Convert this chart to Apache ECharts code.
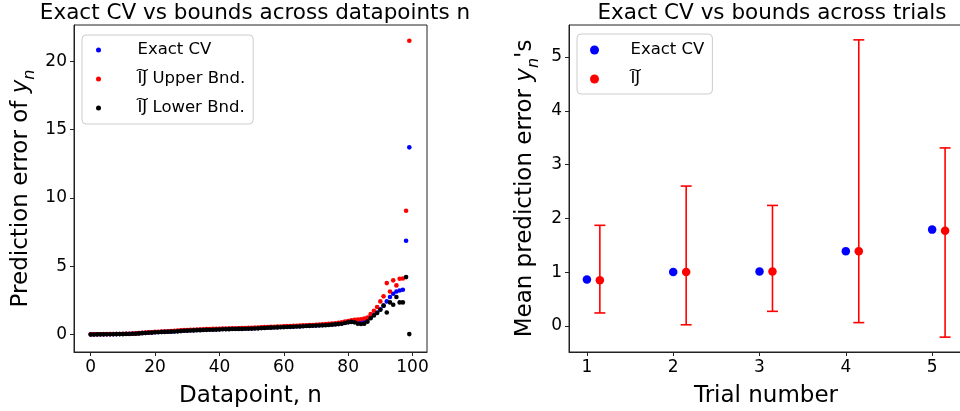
<!DOCTYPE html>
<html><head><meta charset="utf-8">
<script src="https://cdn.jsdelivr.net/npm/echarts@6/dist/echarts.min.js"></script>
<style>html,body{margin:0;padding:0;background:#fff}#c{width:960px;height:411px}</style>
</head><body><div id="c"></div>
<script>
// ---------- Left panel data (datapoints n = 0..99) ----------
const exactCV = [
  0.02,0.02,0.02,0.03,0.03,0.03,0.04,0.04,0.04,0.05,
  0.05,0.06,0.06,0.07,0.08,0.10,0.12,0.13,0.15,0.16,
  0.18,0.19,0.20,0.21,0.22,0.23,0.24,0.26,0.28,0.30,
  0.31,0.32,0.33,0.34,0.35,0.36,0.37,0.38,0.38,0.39,
  0.40,0.41,0.41,0.42,0.43,0.43,0.44,0.44,0.45,0.46,
  0.46,0.47,0.48,0.50,0.51,0.52,0.53,0.54,0.55,0.56,
  0.57,0.58,0.59,0.60,0.61,0.62,0.63,0.65,0.66,0.67,
  0.68,0.69,0.70,0.72,0.74,0.76,0.78,0.80,0.84,0.88,
  0.92,0.95,0.97,0.98,1.00,1.05,1.12,1.30,1.45,1.62,
  1.85,2.12,2.43,2.75,2.99,3.16,3.23,3.28,6.87,13.7
];
const ijUpper = [
  0.02,0.03,0.03,0.03,0.04,0.04,0.04,0.05,0.05,0.05,
  0.06,0.06,0.07,0.08,0.09,0.11,0.13,0.15,0.17,0.18,
  0.20,0.21,0.22,0.23,0.25,0.26,0.28,0.30,0.31,0.33,
  0.34,0.35,0.36,0.37,0.38,0.39,0.40,0.41,0.42,0.42,
  0.43,0.44,0.45,0.45,0.46,0.47,0.47,0.48,0.49,0.50,
  0.50,0.51,0.52,0.54,0.55,0.56,0.57,0.58,0.59,0.60,
  0.61,0.62,0.63,0.64,0.65,0.66,0.68,0.69,0.70,0.71,
  0.72,0.73,0.75,0.77,0.79,0.81,0.83,0.86,0.90,0.95,
  1.00,1.05,1.08,1.10,1.13,1.18,1.25,1.50,1.75,2.02,
  2.43,2.80,3.77,3.16,3.97,3.60,4.09,4.11,9.06,21.5
];
const ijLower = [
  0.01,0.01,0.02,0.02,0.02,0.03,0.03,0.03,0.04,0.04,
  0.04,0.05,0.05,0.06,0.07,0.09,0.11,0.12,0.14,0.15,
  0.17,0.18,0.19,0.20,0.21,0.22,0.23,0.24,0.26,0.28,
  0.29,0.30,0.31,0.32,0.33,0.34,0.35,0.36,0.36,0.37,
  0.38,0.39,0.39,0.40,0.41,0.41,0.42,0.42,0.43,0.43,
  0.44,0.45,0.46,0.48,0.49,0.50,0.51,0.52,0.53,0.54,
  0.55,0.56,0.57,0.58,0.59,0.60,0.61,0.63,0.64,0.65,
  0.66,0.67,0.68,0.69,0.71,0.73,0.75,0.77,0.80,0.85,
  0.90,0.93,0.90,0.80,0.78,0.80,0.95,1.20,1.40,1.58,
  1.82,2.12,1.62,2.36,2.19,2.75,2.36,2.36,4.21,0.04
];
const leftXTicks = [0, 20, 40, 60, 80, 100];
const leftYTicks = [0, 5, 10, 15, 20];

// ---------- Right panel data (trials) ----------
const trials   = [1, 2, 3, 4, 5];
const exactMean = [0.86, 1.00, 1.01, 1.39, 1.79];
const ijMean    = [0.85, 1.00, 1.01, 1.39, 1.77];
const ijLow     = [0.24, 0.02, 0.27, 0.06, -0.21];
const ijHigh    = [1.87, 2.60, 2.24, 5.32, 3.31];
const rightXTicks = [1, 2, 3, 4, 5];
const rightYTicks = [0, 1, 2, 3, 4, 5];

// ---------- styling ----------
const F = 'DejaVu Sans';
const IJ = 'I\u0360J';
const ijShift = 0.15; // horizontal dodge of the IJ markers
const BLUE = '#0000ff', RED = '#ff0000', BLACK = '#000000';

function axis(gridIndex, min, max, ticks, extra) {
  return Object.assign({
    type: 'value', gridIndex, min, max, scale: true,
    axisLine: { show: true, onZero: false, lineStyle: { color: '#222', width: 1 } },
    axisTick: { show: true, inside: false, length: 4, customValues: ticks, lineStyle: { color: '#222', width: 1 } },
    axisLabel: { customValues: ticks, fontSize: 17, color: '#000', fontFamily: F, margin: 7 },
    splitLine: { show: false },
    nameTextStyle: { fontFamily: F, fontSize: 23, color: '#000' }
  }, extra);
}
const richName = {
  t: { fontFamily: F, fontSize: 23, color: '#000', lineHeight: 30, verticalAlign: 'top' },
  i: { fontFamily: F, fontSize: 23, color: '#000', fontStyle: 'italic', lineHeight: 30, verticalAlign: 'top' },
  s: { fontFamily: F, fontSize: 16, color: '#000', fontStyle: 'italic', lineHeight: 30, verticalAlign: 'top', padding: [12, 0, 0, 0] }
};

const idx = exactCV.map((_, i) => i);
const pts = arr => arr.map((v, i) => [idx[i], v]);

const chart = echarts.init(document.getElementById('c'), null, { renderer: 'canvas' });
chart.setOption({
  animation: false,
  backgroundColor: '#fff',
  textStyle: { fontFamily: F },
  title: [
    { text: 'Exact CV vs bounds across datapoints n', left: 250, top: -3, textAlign: 'center',
      textStyle: { fontFamily: F, fontSize: 21.5, fontWeight: 'normal', color: '#000' } },
    { text: 'Exact CV vs bounds across trials', left: 767, top: -3, textAlign: 'center',
      textStyle: { fontFamily: F, fontSize: 21.5, fontWeight: 'normal', color: '#000' } }
  ],
  grid: [
    { left: 74, top: 25, width: 353, height: 327, show: true, borderColor: '#222', borderWidth: 1,
      backgroundColor: 'transparent', containLabel: false, outerBoundsMode: 'none' },
    { left: 569, top: 25, width: 394, height: 327, show: true, borderColor: '#222', borderWidth: 1,
      backgroundColor: 'transparent', containLabel: false, outerBoundsMode: 'none' }
  ],
  xAxis: [
    axis(0, -5.2, 104.5, leftXTicks, { name: 'Datapoint, n', nameLocation: 'middle', nameGap: 33 }),
    axis(1, 0.7925, 5.3575, rightXTicks, { name: 'Trial number', nameLocation: 'middle', nameGap: 33 })
  ],
  yAxis: [
    axis(0, -1.27, 22.65, leftYTicks, {
      name: '{t|Prediction error of }{i|y}{s|n}', nameLocation: 'middle', nameGap: 34, nameRotate: 90,
      nameTextStyle: { rich: richName }
    }),
    axis(1, -0.4865, 5.5965, rightYTicks, {
      name: "{t|Mean prediction error }{i|y}{s|n}{t|'s}", nameLocation: 'middle', nameGap: 25, nameRotate: 90,
      nameTextStyle: { rich: richName }
    })
  ],
  legend: [
    { left: 82, top: 35, orient: 'vertical', padding: [5, 8, 6, 14], itemGap: 9,
      itemWidth: 20, itemHeight: 5, icon: 'circle',
      backgroundColor: '#fff', borderColor: '#cccccc', borderWidth: 1, borderRadius: 4,
      textStyle: { fontFamily: F, fontSize: 16.5, color: '#000', lineHeight: 20, padding: [0, 0, 0, 24] },
      data: ['Exact CV', IJ + ' Upper Bnd.', IJ + ' Lower Bnd.'] },
    { left: 577, top: 34, orient: 'vertical', padding: [6, 8, 5, 13], itemGap: 9,
      itemWidth: 20, itemHeight: 9, icon: 'circle',
      backgroundColor: '#fff', borderColor: '#cccccc', borderWidth: 1, borderRadius: 4,
      textStyle: { fontFamily: F, fontSize: 16.5, color: '#000', lineHeight: 20, padding: [0, 0, 0, 21] },
      data: ['Exact CV', IJ] }
  ],
  series: [
    { name: 'Exact CV', type: 'scatter', xAxisIndex: 0, yAxisIndex: 0, symbolSize: 4.6,
      itemStyle: { color: BLUE, opacity: 1 }, data: pts(exactCV) },
    { name: IJ + ' Upper Bnd.', type: 'scatter', xAxisIndex: 0, yAxisIndex: 0, symbolSize: 4.6,
      itemStyle: { color: RED, opacity: 1 }, data: pts(ijUpper) },
    { name: IJ + ' Lower Bnd.', type: 'scatter', xAxisIndex: 0, yAxisIndex: 0, symbolSize: 4.6,
      itemStyle: { color: BLACK, opacity: 1 }, data: pts(ijLower) },
    { name: 'Exact CV', type: 'scatter', xAxisIndex: 1, yAxisIndex: 1, symbolSize: 8.5,
      itemStyle: { color: BLUE, opacity: 1 }, data: trials.map((t, i) => [t, exactMean[i]]) },
    { name: IJ + '_bars', type: 'custom', xAxisIndex: 1, yAxisIndex: 1,
      data: trials.map((t, i) => [t + ijShift, ijLow[i], ijHigh[i]]),
      renderItem: function (params, api) {
        const lo = api.coord([api.value(0), api.value(1)]);
        const hi = api.coord([api.value(0), api.value(2)]);
        const cap = 5.5;
        const st = { stroke: RED, lineWidth: 1.6 };
        return { type: 'group', children: [
          { type: 'line', shape: { x1: lo[0], y1: lo[1], x2: hi[0], y2: hi[1] }, style: st },
          { type: 'line', shape: { x1: lo[0] - cap, y1: lo[1], x2: lo[0] + cap, y2: lo[1] }, style: st },
          { type: 'line', shape: { x1: hi[0] - cap, y1: hi[1], x2: hi[0] + cap, y2: hi[1] }, style: st }
        ]};
      }, z: 2 },
    { name: IJ, type: 'scatter', xAxisIndex: 1, yAxisIndex: 1, symbolSize: 8.5, z: 3,
      itemStyle: { color: RED, opacity: 1 }, data: trials.map((t, i) => [t + ijShift, ijMean[i]]) }
  ]
});
</script>
</body></html>
